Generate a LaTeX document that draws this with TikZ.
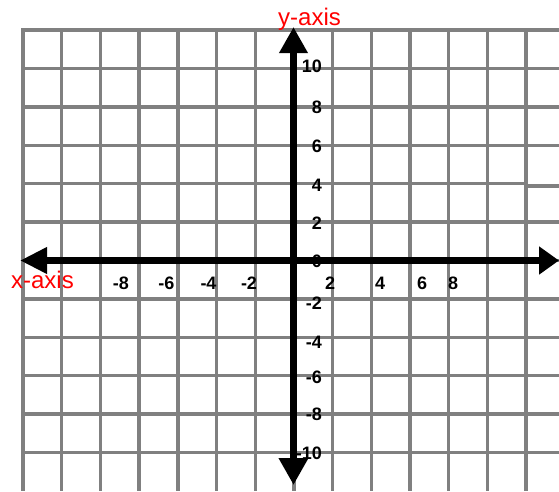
\documentclass[tikz,border=0pt]{standalone}
\usepackage{fontspec}
\setmainfont{Liberation Sans}
\usetikzlibrary{arrows.meta}
\begin{document}
\begin{tikzpicture}[x=1pt,y=-1pt,
   gridline/.style={draw=gray,line width=3.4pt},
   axisline/.style={line width=7pt},
   ticklabel/.style={font=\bfseries\fontsize{18}{18}\selectfont,inner sep=0pt},
   axislabel/.style={text=red,font=\fontsize{24}{24}\selectfont,inner sep=0pt,anchor=base}]
   \useasboundingbox (0,0) rectangle (559,491);
   \foreach \i in {0,...,13}
     \draw[gridline] (23+38.7*\i,28.3) -- (23+38.7*\i,491);
   \foreach \j in {0,1,2,3,5,6,7,8,9,10,11}
     \draw[gridline] (21.3,30+38.4*\j) -- (559,30+38.4*\j);
   \draw[gridline] (21.3,183.6) -- (526,183.6);
   \draw[gridline] (526,186) -- (559,186);
   \foreach \v/\p [count=\k] in
     {-8/121, -6/166.5, -4/208.5, -2/249,
       2/330,  4/380,    6/422,    8/453}
     \node[ticklabel] (xtick\k) at (\p,283) {\v};
   \foreach \v/\p [count=\k] in
     {10/66, 8/107.5, 6/146, 4/185, 2/223, 0/261.5,
      -2/303.5, -4/342.5, -6/377, -8/414, -10/453}
     \node[ticklabel,anchor=east] (ytick\k) at (322,\p) {\v};
   \coordinate (xleft) at (20,260.5);
   \coordinate (xright) at (559,260.5);
   \coordinate (ytop) at (293.5,27);
   \coordinate (ybottom) at (293.5,485);
   \draw[axisline,{Triangle[length=27pt,width=25pt]}-{Triangle[length=20pt,width=27pt]}] (xleft) -- (xright);
   \draw[axisline,{Triangle[length=26pt,width=27pt]}-{Triangle[length=27pt,width=28pt]}] (ytop) -- (ybottom);
   \node[axislabel] (ylabel) at (309.5,25) {y-axis};
   \node[axislabel] (xlabel) at (42.5,288) {x-axis};
\end{tikzpicture}
\end{document}
